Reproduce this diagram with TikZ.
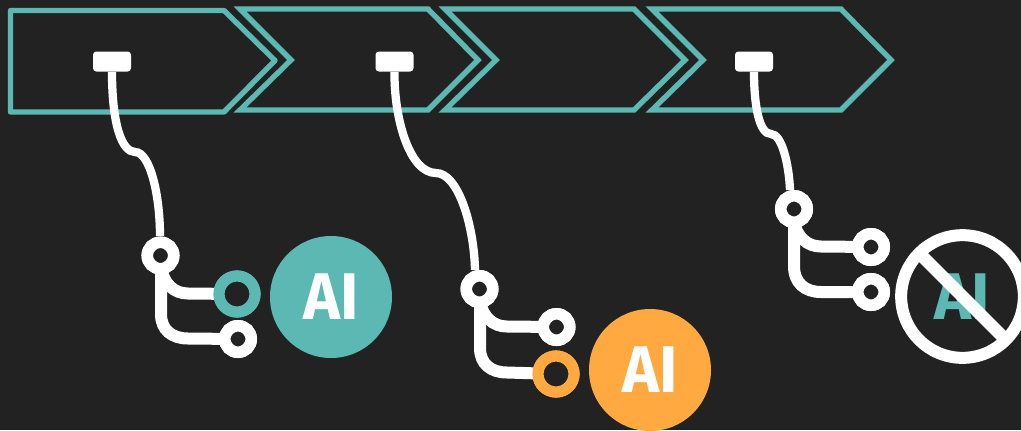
\documentclass[tikz,border=0pt]{standalone}
\usepackage{fontspec}
\setmainfont{Fira Sans}
\definecolor{bgc}{HTML}{222222}
\definecolor{teal}{HTML}{5BB8B2}
\definecolor{amber}{HTML}{FFA940}
\tikzset{
  chev/.style={draw=teal,line width=4pt,line join=miter},
  wire/.style={draw=white,line width=6.2pt},
  branch/.style={draw=white,line width=9pt},
  tag/.style={fill=white,draw=none,rounded corners=2.5pt,minimum width=28.5pt,minimum height=15pt,inner sep=0pt},
  port/.style={circle,draw=white,fill=bgc,line width=8.7pt,minimum size=19.8pt,inner sep=0pt,outer sep=0pt},
  portc/.style={circle,fill=bgc,line width=8.4pt,minimum size=27pt,inner sep=0pt,outer sep=0pt},
  badge/.style={circle,minimum size=91.5pt,inner sep=0pt},
  ailabel/.style={text=white,font=\bfseries\fontsize{49.5}{49.5}\selectfont,inner sep=0pt},
}
\newcommand{\aitext}{\scalebox{0.95}[1]{AI}}
\begin{document}
\begin{tikzpicture}[x=0.75pt,y=-0.75pt]
\useasboundingbox[fill=bgc] (0,0) rectangle (1021,430);
% chevrons
\draw[chev,line join=round] (10.5,10.5) -- (224,10.5) -- (275,60.5) -- (224,112) -- (10.5,112) -- cycle;
\draw[chev] (240,9) -- (428,9) -- (478,60) -- (428,110) -- (240,110) -- (291,60) -- cycle;
\draw[chev] (445,9) -- (634,9) -- (685,60) -- (634,110) -- (445,110) -- (496,60) -- cycle;
\draw[chev] (652,9) -- (841,9) -- (891,60) -- (841,110) -- (652,110) -- (703,60) -- cycle;
% tags
\node[tag] (t1) at (112,61.5) {};
\node[tag] (t2) at (394.5,61.5) {};
\node[tag] (t3) at (754,61.5) {};
% group 1
\node[port] (a) at (160.5,255.5) {};
\node[portc,draw=teal] (b) at (237,294) {};
\node[port] (c) at (238,339) {};
\draw[branch] (161,268) .. controls (164,284) and (174,293.5) .. (188,293.5) -- (b);
\draw[branch] (161,265) -- (161,314) .. controls (161,330) and (172,338.5) .. (188,338.5) -- (c);
\node[port] at (a) {};
\node[portc,draw=teal] at (b) {};
\node[port] at (c) {};
\draw[wire] (t1.south) .. controls (112,125) and (122,152) .. (135,152) .. controls (150,152) and (160,195) .. (160,236);
\node[badge,fill=teal] (d) at (331,297) {};
\node[ailabel] at (d) {\aitext};
% group 2
\node[port] (e) at (479.5,289) {};
\node[port] (f) at (556.5,327) {};
\node[portc,draw=amber] (g) at (556,374) {};
\draw[branch] (480,302) .. controls (483,317) and (493,326.5) .. (507,326.5) -- (f);
\draw[branch] (480,298) -- (480,348) .. controls (480,364) and (491,372.5) .. (507,372.5) -- (g);
\node[port] at (e) {};
\node[port] at (f) {};
\node[portc,draw=amber] at (g) {};
\draw[wire] (t2.south) .. controls (394,120) and (410,173) .. (436,173) .. controls (458,173) and (474,225) .. (475,270);
\node[badge,fill=amber] (h) at (650,370) {};
\node[ailabel] at (h) {\aitext};
% group 3
\node[port] (i) at (794,209) {};
\node[port] (j) at (871,247) {};
\node[port] (k) at (871,292) {};
\draw[branch] (794,222) .. controls (797,237) and (807,246.5) .. (821,246.5) -- (j);
\draw[branch] (794,218) -- (794,266) .. controls (794,283) and (805,292) .. (821,292) -- (k);
\node[port] at (i) {};
\node[port] at (j) {};
\node[port] at (k) {};
\draw[wire] (t3.south) .. controls (754,105) and (759,134) .. (771,134) .. controls (782,134) and (789,165) .. (790,190);
\node[ailabel,text=teal] (m) at (962,297) {\aitext};
\node[circle,draw=white,line width=9pt,minimum size=92pt,inner sep=0pt,outer sep=0pt] (n) at (962.5,296.5) {};
\draw[draw=white,line width=9.5pt] (n.135) -- (n.-45);
\end{tikzpicture}
\end{document}
